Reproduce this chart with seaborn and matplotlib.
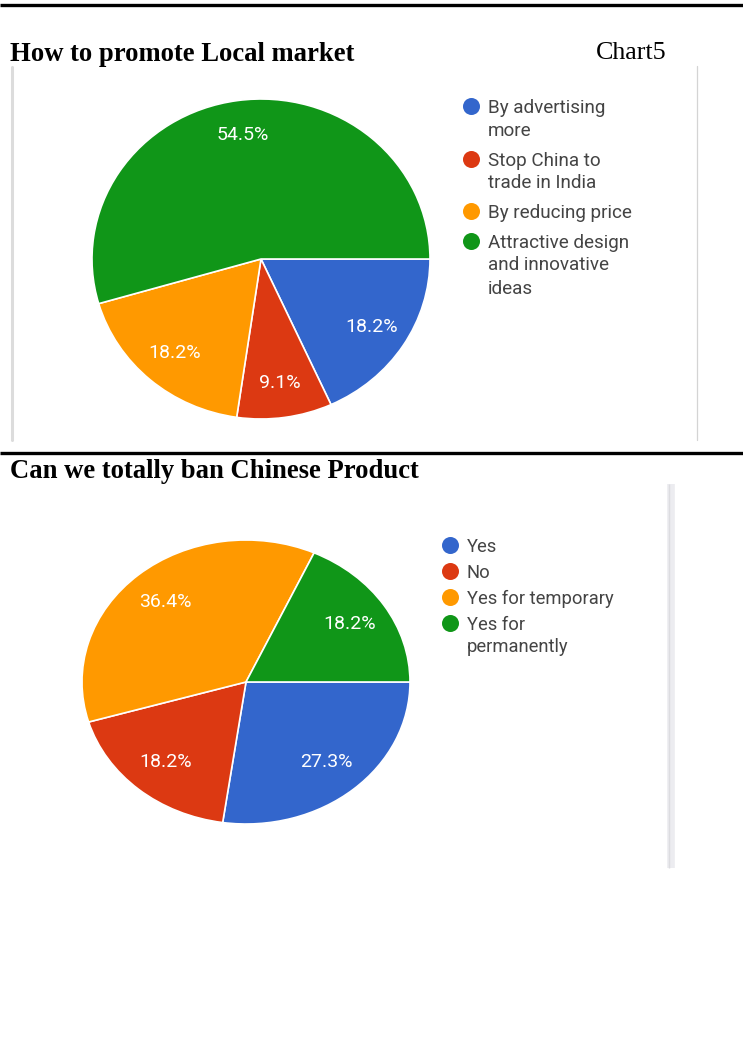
import matplotlib
matplotlib.use("Agg")
import matplotlib.pyplot as plt
import seaborn as sns

# Survey answers, chart 5: how to promote the local market
promote_labels = ["By advertising\nmore", "Stop China to\ntrade in India",
                  "By reducing price", "Attractive design\nand innovative\nideas"]
promote_pct = [18.2, 9.1, 18.2, 54.5]

# Survey answers: can Chinese products be banned completely
ban_labels = ["Yes", "No", "Yes for temporary", "Yes for\npermanently"]
ban_pct = [27.3, 18.2, 36.4, 18.2]

sns.set_theme(style="white")
plt.rcParams["font.family"] = ["Roboto", "DejaVu Sans"]
palette = sns.color_palette(["#3366cc", "#dc3912", "#ff9900", "#109618"])

W, H = 743, 1064
fig = plt.figure(figsize=(W / 100, H / 100), dpi=100)
fig.patch.set_facecolor("white")

# Page layer in pixel units for headings, rules and legends
page = fig.add_axes([0, 0, 1, 1], zorder=0)
page.set_xlim(0, W)
page.set_ylim(H, 0)
page.axis("off")

serif = ["Liberation Serif", "DejaVu Serif"]
page.plot([0, W], [4.5, 4.5], color="black", lw=2.4, solid_capstyle="butt")
page.plot([0, W], [453, 453], color="black", lw=2.4, solid_capstyle="butt")
page.text(10, 61, "How to promote Local market", family=serif, weight="bold",
          fontsize=19.2, va="baseline", ha="left", color="black")
page.text(596, 59, "Chart5", family=serif, fontsize=18.7, va="baseline",
          ha="left", color="black")
page.text(10, 478, "Can we totally ban Chinese Product", family=serif,
          weight="bold", fontsize=19.2, va="baseline", ha="left", color="black")

# Frame edges around the embedded chart images
page.plot([12, 12], [67, 440], color="#dcdcdc", lw=2.2)
page.plot([697, 697], [66, 440], color="#d4d4d4", lw=0.9)
page.plot([671, 671], [484, 868], color="#ececf0", lw=5.5, solid_capstyle="butt")
page.plot([668.5, 668.5], [484, 868], color="#dcdce0", lw=1.0, solid_capstyle="butt")


def draw_pie(left, top, right, bottom, values, pctdist):
    ax = fig.add_axes([left / W, 1 - bottom / H, (right - left) / W, (bottom - top) / H],
                      zorder=2)
    wedges, texts, autotexts = ax.pie(
        values, colors=palette, startangle=0, counterclock=False,
        autopct="%1.1f%%", pctdistance=pctdist, radius=1,
        wedgeprops=dict(edgecolor="white", linewidth=1.2),
        textprops=dict(color="white", fontsize=14, family=["Roboto", "DejaVu Sans"]))
    ax.set_aspect("auto")
    ax.set_xlim(-1, 1)
    ax.set_ylim(-1, 1)
    ax.axis("off")
    return ax


def draw_legend(labels, x_dot, x_text, y_first, line_h, item_gap, size):
    y = y_first
    for color, label in zip(palette, labels):
        page.scatter([x_dot], [y], s=150, color=color, zorder=3, linewidths=0)
        lines = label.split("\n")
        for k, line in enumerate(lines):
            page.text(x_text, y + 7 + k * line_h, line, fontsize=size,
                      color="#444444", va="baseline", ha="left")
        y += len(lines) * line_h + item_gap


draw_pie(92, 99, 430, 419, promote_pct, 0.78)
draw_legend(promote_labels, 471, 488, 106, 23, 6.5, 13.6)

draw_pie(82, 540, 410, 824, ban_pct, 0.75)
draw_legend(ban_labels, 450, 467, 545, 22.5, 3.5, 13.2)

fig.savefig("out.png", dpi=100, facecolor="white")
